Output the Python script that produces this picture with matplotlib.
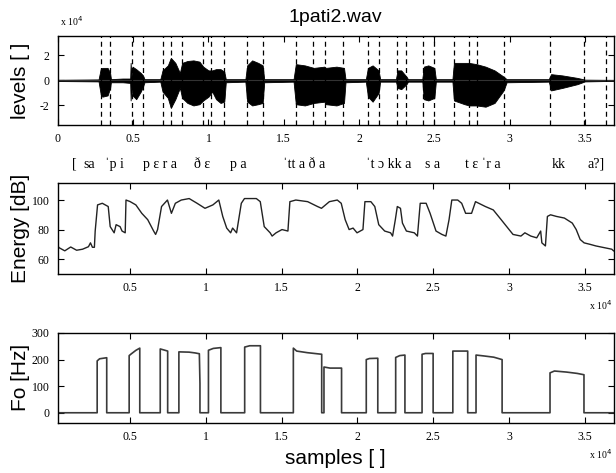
import matplotlib
matplotlib.use('Agg')
from matplotlib import pyplot as plt
from matplotlib import transforms

# waveform envelope (x 10^4)
env_x = [0, 2700, 2840, 2950, 3300, 3470, 3520, 4300, 4800, 4830, 4880, 4950, 5200, 5500, 5650, 5750,
         6800, 6950, 7300, 7500, 7800, 8100, 8250, 8600, 9000, 9400, 9650, 10000, 10250, 10500, 10800,
         11050, 11150, 12450, 12570, 12900, 13300, 13600, 13700, 15650, 15800, 16400, 17000, 17700,
         17800, 18500, 19000, 19100, 20450, 20590, 20900, 21300, 21400, 22450, 22550, 22800, 23150,
         23250, 24200, 24300, 24600, 25000, 25100, 26200, 26300, 27000, 27300, 27800, 28400, 29000,
         29600, 29800, 32600, 32750, 33500, 34500, 35000, 36900]
env_hi = [0.05, 0.08, 0.9, 1.0, 1.0, 0.6, 0.1, 0.15, 0.15, 1.4, 0.3, 1.1, 0.9, 0.6, 0.4, 0.1,
          0.1, 0.8, 1.2, 1.8, 1.4, 0.6, 1.4, 1.55, 1.6, 1.5, 1.1, 0.8, 0.8, 0.9, 0.9,
          0.7, 0.1, 0.1, 1.2, 1.6, 1.4, 1.2, 0.1, 0.1, 1.3, 1.2, 1.0, 1.1,
          1.0, 1.1, 1.0, 0.1, 0.1, 1.0, 1.2, 0.8, 0.1, 0.1, 0.8, 0.8, 0.3,
          0.1, 0.1, 1.1, 1.2, 1.0, 0.1, 0.1, 1.4, 1.4, 1.4, 1.3, 1.1, 0.8,
          0.3, 0.1, 0.1, 0.5, 0.4, 0.2, 0.06, 0.04]
env_lo = [-0.05, -0.08, -1.1, -1.3, -1.2, -0.6, -0.15, -0.15, -0.2, -1.6, -0.5, -1.2, -1.5, -0.9, -0.5, -0.15,
          -0.1, -0.9, -1.4, -2.2, -1.5, -0.6, -1.4, -1.8, -2.0, -1.9, -1.6, -1.3, -0.9, -1.5, -1.8,
          -1.7, -0.15, -0.1, -1.7, -2.0, -1.9, -1.8, -0.15, -0.1, -1.9, -2.0, -1.8, -1.7,
          -1.9, -2.0, -1.8, -0.15, -0.1, -1.3, -1.7, -1.0, -0.1, -0.1, -0.6, -0.7, -0.3,
          -0.1, -0.1, -1.5, -1.6, -1.4, -0.1, -0.1, -1.6, -1.9, -2.0, -2.0, -2.1, -1.8,
          -0.8, -0.15, -0.1, -0.8, -0.6, -0.3, -0.08, -0.04]

# segment boundaries (samples)
bounds = [2840, 3470, 4950, 5650, 7000, 7490, 8230, 9620, 10180, 11000, 12570, 13610, 15780, 16950,
          17720, 18960, 20590, 21350, 22530, 23140, 24270, 25000, 26300, 27280, 27830, 29600, 32710,
          34950, 36420]

# transcription
phones = ['[', 'sa', 'ˈp i', 'p ɛ r a', 'ð ɛ', 'p a', 'ˈtt a ð a', 'ˈt ɔ kk a', 's a', 't ɛ ˈr a', 'kk', 'a?]']
phone_x = [1096, 2058, 3752, 6773, 9562, 11952, 16335, 21979, 24900, 28220, 33267, 35724]

# energy [dB]
en_x = [260, 313, 703, 1094, 1485, 1876, 2266, 2397, 2527, 2657, 2709, 2866, 3178, 3569, 3699, 3960,
        4090, 4350, 4481, 4689, 4741, 5002, 5392, 5783, 6174, 6565, 6695, 6825, 7086, 7476, 7737,
        7997, 8388, 8909, 9430, 9951, 10472, 10863, 11123, 11384, 11644, 11775, 12035, 12348, 12556,
        13338, 13598, 13859, 14250, 14380, 14640, 15031, 15422, 15552, 15943, 16724, 17375, 17636,
        18157, 18678, 18938, 19199, 19459, 19720, 19980, 20371, 20501, 20892, 21152, 21413, 21804,
        22195, 22325, 22507, 22637, 22846, 22976, 23237, 23758, 23966, 24148, 24539, 24800, 25190,
        25581, 25842, 26050, 26232, 26623, 26884, 27144, 27535, 27795, 28446, 28967, 29488, 30010,
        30270, 30791, 31052, 31442, 31833, 32094, 32172, 32407, 32537, 32745, 33136, 33657, 34178,
        34438, 34699, 34959, 35350, 35740, 36261, 36782, 36900]
en_db = [68.9, 67.8, 65.6, 68.2, 66.0, 66.7, 68.4, 71.0, 68.0, 68.0, 79.0, 96.7, 97.8, 95.6, 82.0, 77.8,
         83.3, 82.0, 79.0, 77.8, 100.0, 99.0, 96.7, 91.0, 86.7, 79.0, 76.7, 80.0, 95.6, 100.0, 91.0,
         97.8, 100.0, 101.0, 97.8, 94.4, 96.7, 100.0, 88.9, 81.0, 77.8, 81.0, 77.8, 97.8, 101.0,
         101.0, 98.9, 82.0, 77.8, 75.6, 77.8, 80.0, 79.0, 98.9, 100.0, 98.9, 95.6, 94.4,
         98.9, 100.0, 97.8, 86.7, 80.0, 81.0, 77.8, 80.0, 98.9, 98.9, 95.6, 83.3, 79.0,
         77.8, 75.6, 86.7, 95.6, 94.4, 84.4, 79.0, 77.8, 75.6, 97.8, 97.8, 91.0, 79.0,
         76.7, 75.6, 86.7, 100.0, 100.0, 97.8, 91.0, 91.0, 98.9, 95.6, 93.3, 86.7, 80.0,
         76.7, 75.6, 77.8, 75.6, 74.4, 79.0, 71.0, 68.9, 88.9, 90.0, 88.9, 87.8, 84.4,
         80.0, 73.3, 71.0, 70.0, 68.9, 67.8, 66.7, 65.6]

# Fo [Hz]
fo_x = [250, 2840, 2840, 3000, 3470, 3470, 4950, 4950, 5100, 5400, 5650, 5650, 7000, 7000, 7250, 7490, 7490,
        8230, 8230, 8900, 9300, 9580, 9620, 9620, 10180, 10180, 10500, 11000, 11000, 12570, 12570, 12900,
        13610, 13610, 15780, 15780, 16000, 16700, 17650, 17650, 17800, 17800, 18200, 18960, 18960, 20590,
        20590, 20800, 21350, 21350, 22530, 22530, 22800, 23140, 23140, 24270, 24270, 24500, 25000, 25000,
        26300, 26300, 27280, 27280, 27830, 27830, 28300, 29000, 29550, 29550, 32710, 32710, 33000, 33800,
        34500, 34950, 34950, 36900]
fo_hz = [0, 0, 195, 203, 207, 0, 0, 215, 222, 235, 243, 0, 0, 240, 236, 232, 0,
         0, 229, 228, 225, 222, 110, 0, 0, 235, 242, 245, 0, 0, 247, 252,
         252, 0, 0, 243, 232, 226, 220, 0, 0, 172, 168, 168, 0, 0,
         200, 204, 205, 0, 0, 208, 215, 217, 0, 0, 220, 223, 223, 0,
         0, 232, 232, 0, 0, 217, 214, 209, 200, 0, 0, 150, 157, 153,
         148, 143, 0, 0]

xt = [0, 5000, 10000, 15000, 20000, 25000, 30000, 35000]
xt_lab = ['0', '0.5', '1', '1.5', '2', '2.5', '3', '3.5']

serif = ['Liberation Serif', 'DejaVu Serif']
sans = ['Liberation Sans', 'DejaVu Sans']

fig = plt.figure(figsize=(6.16, 4.73), dpi=100)
ax1 = fig.add_axes([0.094, 0.736, 0.902, 0.188])
ax2 = fig.add_axes([0.094, 0.421, 0.902, 0.192])
ax3 = fig.add_axes([0.094, 0.106, 0.902, 0.190])

# waveform
ax1.fill_between(env_x, env_lo, env_hi, color='black', lw=0.6)
ax1.plot([0, 36900], [0, 0], color='#333333', lw=0.8)
for b in bounds:
    ax1.axvline(b, color='black', ls=(0, (4, 3)), lw=0.9)
ax1.set_xlim(0, 36900)
ax1.set_ylim(-3.55, 3.55)
ax1.set_yticks([-2, 0, 2])
ax1.set_yticklabels(['-2', '0', '2'])
ax1.set_xticks(xt)
ax1.set_xticklabels(xt_lab)
ax1.set_ylabel('levels [ ]', family=sans, fontsize=15)
ax1.set_title('1pati2.wav', family=sans, fontsize=14, pad=10)
fig.text(0.098, 0.955, 'x 10$^4$', family=serif, fontsize=7, va='center')

trans = transforms.blended_transform_factory(ax1.transData, fig.transFigure)
for p, px in zip(phones, phone_x):
    ax1.text(px, 0.653, p, transform=trans, family=serif, fontsize=10, ha='center', va='center')

# energy
ax2.plot(en_x, en_db, color='#222222', lw=1.0)
ax2.set_xlim(250, 36900)
ax2.set_ylim(50, 111.5)
ax2.set_yticks([60, 80, 100])
ax2.set_xticks(xt[1:])
ax2.set_xticklabels(xt_lab[1:])
ax2.set_ylabel('Energy [dB]', family=sans, fontsize=15)
fig.text(0.956, 0.355, 'x 10$^4$', family=serif, fontsize=7, va='center')

# Fo
ax3.plot(fo_x, fo_hz, color='#3a3a3a', lw=1.2)
ax3.set_xlim(250, 36900)
ax3.set_ylim(-38, 300)
ax3.set_yticks([0, 100, 200, 300])
ax3.set_xticks(xt[1:])
ax3.set_xticklabels(xt_lab[1:])
ax3.set_ylabel('Fo [Hz]', family=sans, fontsize=15)
ax3.set_xlabel('samples [ ]', family=sans, fontsize=15, labelpad=4)
fig.text(0.956, 0.04, 'x 10$^4$', family=serif, fontsize=7, va='center')

for ax in [ax1, ax2, ax3]:
    ax.tick_params(direction='in', top=True, right=True, length=4, width=0.8, labelsize=8.5, pad=6)
    for lab in ax.get_xticklabels() + ax.get_yticklabels():
        lab.set_family(serif)
    for s in ax.spines.values():
        s.set_linewidth(1.0)
    ax.yaxis.set_label_coords(-0.05, 0.5)

fig.savefig('out.png', dpi=100)
